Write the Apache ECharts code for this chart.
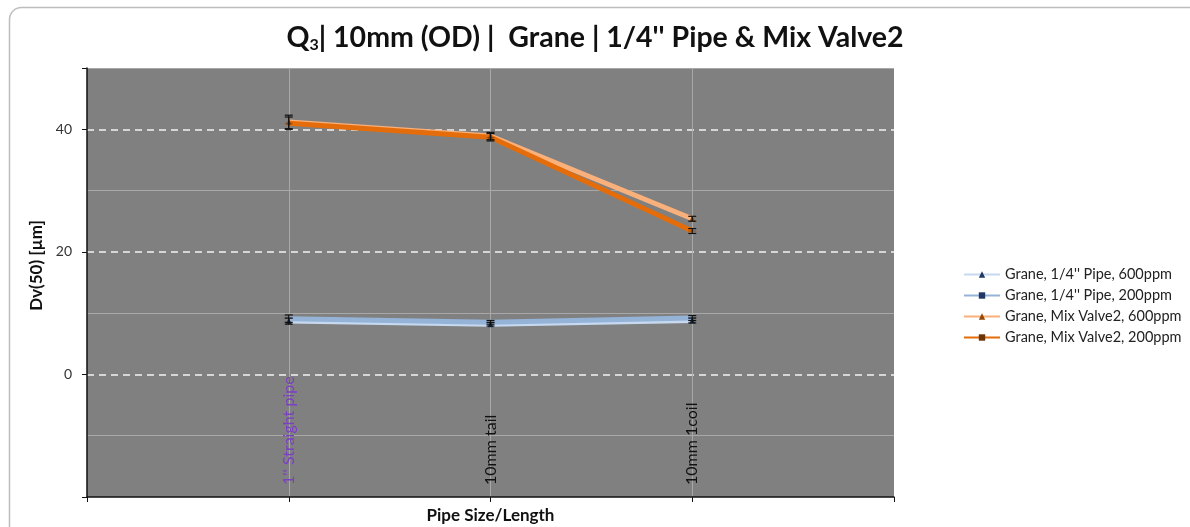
<!DOCTYPE html>
<html>
<head>
<meta charset="utf-8">
<script src="https://cdn.jsdelivr.net/npm/echarts@6/dist/echarts.min.js"></script>
<style>
  html, body { margin: 0; padding: 0; background: #fff; }
  #chart { width: 1190px; height: 527px; }
</style>
</head>
<body>
<div id="chart"></div>
<script>
// Pipe configurations along the x axis (padded with blank slots at both ends)
const categories = ['1\'\' Straight pipe', '10mm tail', '10mm 1coil'];

// Dv(50) in µm for each configuration
const pipe600 = [8.7, 8.2, 8.8];
const pipe200 = [9.1, 8.5, 9.2];
const valve600 = [41.2, 38.9, 25.4];
const valve200 = [41.0, 38.7, 23.4];

// Half-widths of the error bars (µm)
const pipe600Err = [0.5, 0.3, 0.4];
const pipe200Err = [0.6, 0.3, 0.4];
const valve600Err = [1.1, 0.6, 0.4];
const valve200Err = [1.0, 0.6, 0.4];

const seriesNames = [
  'Grane, 1/4\'\' Pipe, 600ppm',
  'Grane, 1/4\'\' Pipe, 200ppm',
  'Grane, Mix Valve2, 600ppm',
  'Grane, Mix Valve2, 200ppm'
];

const FONT = 'Lato, "Open Sans", sans-serif';
const DASH = 'path://M0,0 L8,0 L8,2 L0,2 Z';

const xCats = [''].concat(categories, ['']);
const pad = arr => [null].concat(arr, [null]);

function errorData(values, errs) {
  return values.map((v, i) => [i + 1, v, errs[i]]);
}

function renderErrorBar(params, api) {
  const x = api.value(0), v = api.value(1), e = api.value(2);
  const hi = api.coord([x, v + e]);
  const lo = api.coord([x, v - e]);
  const w = 4;
  const style = { stroke: '#111', lineWidth: 1.2 };
  return {
    type: 'group',
    children: [
      { type: 'line', shape: { x1: hi[0], y1: hi[1], x2: lo[0], y2: lo[1] }, style },
      { type: 'line', shape: { x1: hi[0] - w, y1: hi[1], x2: hi[0] + w, y2: hi[1] }, style },
      { type: 'line', shape: { x1: lo[0] - w, y1: lo[1], x2: lo[0] + w, y2: lo[1] }, style }
    ]
  };
}

function lineSeries(name, values, color, symbol, symbolSize, symbolColor) {
  return {
    name, type: 'line', data: pad(values),
    yAxisIndex: 0,
    lineStyle: { color, width: 5 },
    itemStyle: { color: symbolColor, borderWidth: 0 },
    symbol, symbolSize, symbolKeepAspect: true, showSymbol: true,
    connectNulls: false, z: 3
  };
}

function errSeries(values, errs) {
  return {
    type: 'custom', data: errorData(values, errs),
    renderItem: renderErrorBar, yAxisIndex: 0, z: 4, silent: true
  };
}

const chart = echarts.init(document.getElementById('chart'), null, { renderer: 'canvas' });

chart.setOption({
  animation: false,
  backgroundColor: '#fff',
  graphic: [{
    type: 'rect', left: 7, top: 5, silent: true, z: -10,
    shape: { width: 1200, height: 540, r: 12 },
    style: { fill: 'none', stroke: '#BDBDBD', lineWidth: 1.5 }
  }],
  title: {
    text: '{a|Q}{s|3}{a|| 10mm (OD) |  Grane | 1/4\'\' Pipe & Mix Valve2}',
    left: 'center', top: 18,
    textStyle: {
      rich: {
        a: { fontFamily: FONT, fontWeight: 'bold', fontSize: 28.5, color: '#111' },
        s: { fontFamily: FONT, fontWeight: 'bold', fontSize: 16, color: '#111', padding: [14, 0, 0, 0] }
      }
    }
  },
  legend: {
    orient: 'vertical', left: 958, top: 262, itemGap: 6,
    itemWidth: 36, itemHeight: 8, symbolKeepAspect: true,
    data: seriesNames,
    textStyle: { fontFamily: FONT, fontSize: 14.5, color: '#222' }
  },
  grid: {
    left: 87, right: 296, top: 68, bottom: 30,
    outerBoundsMode: 'none', containLabel: false,
    show: true, backgroundColor: '#808080', borderWidth: 0
  },
  xAxis: {
    type: 'category', data: xCats, boundaryGap: false,
    name: 'Pipe Size/Length', nameLocation: 'middle', nameGap: 10,
    nameTextStyle: { fontFamily: FONT, fontWeight: 'bold', fontSize: 17, color: '#111' },
    axisLine: { onZero: false, lineStyle: { color: '#111', width: 1.5 } },
    axisTick: { show: true, length: 5, lineStyle: { color: '#111' } },
    axisLabel: {
      inside: true, rotate: 90, interval: 0, margin: 12,
      fontFamily: FONT, fontSize: 16, color: '#111',
      formatter: (v, i) => i === 1 ? '{p|' + v + '}' : v,
      rich: { p: { color: '#7B3FC4', fontFamily: FONT, fontSize: 16 } }
    },
    splitLine: {
      show: true,
      interval: (i) => i > 0 && i < xCats.length - 1,
      lineStyle: { color: '#A8A8A8', width: 1 }
    }
  },
  yAxis: [{
    // minor grid every 10 µm
    type: 'value', min: -20, max: 50, interval: 10,
    axisLine: { show: false }, axisTick: { show: false }, axisLabel: { show: false },
    splitLine: { show: true, lineStyle: { color: ['transparent', '#A8A8A8'], width: 1.2 } }
  }, {
    // labelled major grid every 20 µm
    type: 'value', min: -20, max: 50, interval: 20, position: 'left',
    name: 'Dv(50) [µm]', nameLocation: 'middle', nameGap: 40, nameRotate: 90,
    nameTextStyle: { fontFamily: FONT, fontWeight: 'bold', fontSize: 17, color: '#111', padding: [0, 0, 0, 34] },
    axisLine: { show: true, onZero: false, lineStyle: { color: '#111', width: 1.5 } },
    axisTick: { show: true, length: 5, lineStyle: { color: '#111' } },
    axisLabel: {
      fontFamily: FONT, fontSize: 14, color: '#333', margin: 15,
      formatter: v => (v === -20 || v === 50) ? '' : String(v)
    },
    splitLine: {
      show: true,
      lineStyle: { color: ['transparent', '#F2F2F2', '#F2F2F2', '#F2F2F2', 'transparent'], type: [7, 5], width: 1.5 }
    }
  }],
  series: [
    lineSeries(seriesNames[0], pipe600, '#C6D9F0', 'triangle', 6, '#1F3864'),
    lineSeries(seriesNames[1], pipe200, '#95B3D7', DASH, [8, 2], '#1F3864'),
    lineSeries(seriesNames[2], valve600, '#F9B07A', 'triangle', 6, '#984807'),
    lineSeries(seriesNames[3], valve200, '#E46C0A', DASH, [8, 2], '#6B3405'),
    errSeries(pipe600, pipe600Err),
    errSeries(pipe200, pipe200Err),
    errSeries(valve600, valve600Err),
    errSeries(valve200, valve200Err)
  ]
});
</script>
</body>
</html>
